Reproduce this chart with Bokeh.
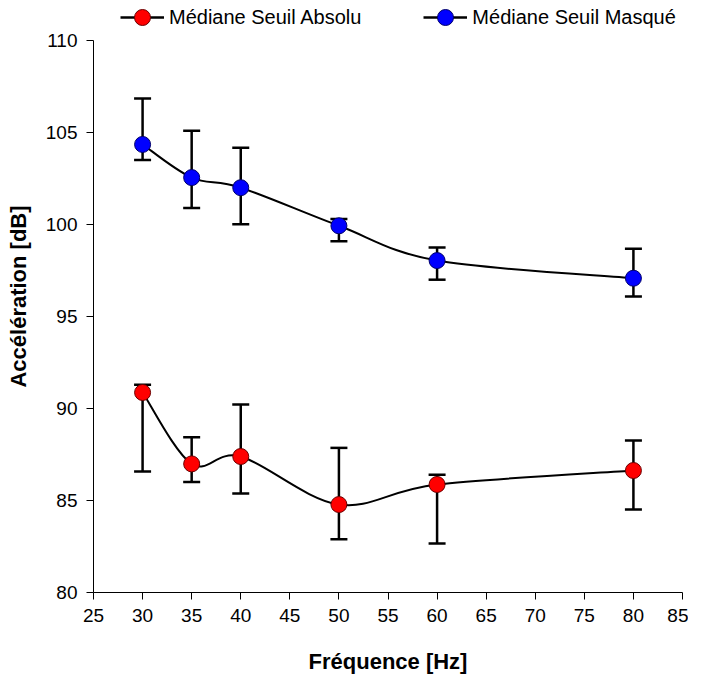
from bokeh.plotting import figure
from bokeh.models import (Range1d, FixedTicker, Whisker, TeeHead, ColumnDataSource,
                          Legend, LegendItem)
from bokeh.embed import file_html
from bokeh.resources import INLINE

# ---- data ----
freq = [30, 35, 40, 50, 60, 80]
abs_med = [90.87, 86.99, 87.39, 84.78, 85.87, 86.63]
abs_lo = [86.58, 86.01, 85.38, 82.90, 82.66, 84.51]
abs_hi = [91.29, 88.44, 90.22, 87.86, 86.40, 88.26]
mask_med = [104.35, 102.55, 102.00, 99.93, 98.04, 97.08]
mask_lo = [103.51, 100.90, 100.02, 99.09, 97.00, 96.09]
mask_hi = [106.85, 105.10, 104.17, 100.30, 98.75, 98.68]
x_ticks = [25, 30, 35, 40, 45, 50, 55, 60, 65, 70, 75, 80, 85]
y_ticks = [80, 85, 90, 95, 100, 105, 110]
label_abs = "Médiane Seuil Absolu"
label_mask = "Médiane Seuil Masqué"

FONT = "Liberation Sans"

# axis spans 80..110 over 552 px; the frame extends 40 px higher to host the legend
Y_LO, Y_HI = y_ticks[0], y_ticks[-1]
AXIS_PX, TOP_PX = 552, 40
y_top = Y_HI + (Y_HI - Y_LO) * TOP_PX / AXIS_PX

p = figure(frame_width=589, frame_height=AXIS_PX + TOP_PX,
           min_border_left=93, min_border_right=6, min_border_top=0, min_border_bottom=88,
           x_range=Range1d(x_ticks[0], x_ticks[-1]), y_range=Range1d(Y_LO, y_top),
           output_backend="svg", toolbar_location=None)
p.outline_line_color = None
p.xgrid.visible = False
p.ygrid.visible = False
p.background_fill_color = "white"
p.border_fill_color = "white"

for ax in (p.xaxis[0], p.yaxis[0]):
    ax.axis_line_color = "black"
    ax.axis_line_width = 1
    ax.major_tick_line_color = "black"
    ax.major_tick_in = 0
    ax.major_tick_out = 7
    ax.minor_tick_line_color = None
    ax.major_label_text_font = FONT
    ax.major_label_text_font_size = "19px"
    ax.major_label_text_color = "black"
    ax.axis_label_text_font = FONT
    ax.axis_label_text_font_size = "22px"
    ax.axis_label_text_font_style = "bold"
    ax.axis_label_text_color = "black"

p.xaxis.ticker = FixedTicker(ticks=x_ticks)
p.yaxis.ticker = FixedTicker(ticks=y_ticks)
p.yaxis.bounds = (Y_LO, Y_HI)
p.xaxis.axis_label = "Fréquence [Hz]"
p.yaxis.axis_label = "Accélération [dB]"
p.xaxis.major_label_standoff = 9
p.yaxis.major_label_standoff = 9
p.xaxis.axis_label_standoff = 24
p.yaxis.axis_label_standoff = 12


def smooth_segments(xs, ys):
    """Catmull-Rom style bezier control points (Excel-like smoothed line)."""
    n = len(xs)
    x0, y0, x1, y1, cx0, cy0, cx1, cy1 = [], [], [], [], [], [], [], []
    for i in range(n - 1):
        im1 = max(i - 1, 0)
        ip2 = min(i + 2, n - 1)
        x0.append(xs[i]); y0.append(ys[i])
        x1.append(xs[i + 1]); y1.append(ys[i + 1])
        cx0.append(xs[i] + (xs[i + 1] - xs[im1]) / 6.0)
        cy0.append(ys[i] + (ys[i + 1] - ys[im1]) / 6.0)
        cx1.append(xs[i + 1] - (xs[ip2] - xs[i]) / 6.0)
        cy1.append(ys[i + 1] - (ys[ip2] - ys[i]) / 6.0)
    return dict(x0=x0, y0=y0, x1=x1, y1=y1, cx0=cx0, cy0=cy0, cx1=cx1, cy1=cy1)


def add_series(med, lo, hi, fill, edge):
    src = ColumnDataSource(dict(x=freq, y=med, lo=lo, hi=hi))
    w = Whisker(base="x", lower="lo", upper="hi", source=src,
                line_color="black", line_width=2.5,
                upper_head=TeeHead(size=17, line_color="black", line_width=2.5),
                lower_head=TeeHead(size=17, line_color="black", line_width=2.5))
    p.add_layout(w)
    seg = ColumnDataSource(smooth_segments(freq, med))
    p.bezier(x0="x0", y0="y0", x1="x1", y1="y1", cx0="cx0", cy0="cy0",
             cx1="cx1", cy1="cy1", source=seg, line_color="black", line_width=2)
    # hidden straight line, only used to draw the line sample in the legend
    proxy = p.line(x="x", y="y", source=src, line_color="black", line_width=2.5)
    proxy.visible = False
    sc = p.scatter(x="x", y="y", source=src, size=16, fill_color=fill,
                   line_color=edge, line_width=1)
    return proxy, sc


pr_a, sc_a = add_series(abs_med, abs_lo, abs_hi, "#FF0000", "#6a0000")
pr_m, sc_m = add_series(mask_med, mask_lo, mask_hi, "#0000FF", "#00006a")

lg = Legend(items=[LegendItem(label=label_abs, renderers=[pr_a, sc_a]),
                   LegendItem(label=label_mask, renderers=[pr_m, sc_m])],
            orientation="horizontal", location=(27, AXIS_PX + TOP_PX - 37),
            border_line_color=None, background_fill_alpha=0, padding=0, margin=0,
            spacing=62, glyph_width=44, glyph_height=40, label_standoff=5,
            label_height=20, label_text_font=FONT, label_text_font_size="20px",
            label_text_color="black", inactive_fill_alpha=0)
p.add_layout(lg)

open("out.html", "w").write(file_html(p, INLINE))
